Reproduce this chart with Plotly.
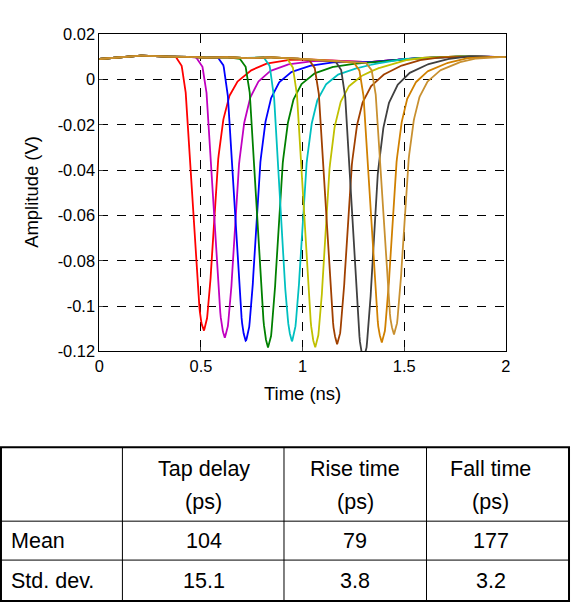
import plotly.graph_objects as go
import numpy as np

# pulse minima (ns) and depths (V)
centers = [0.514, 0.617, 0.721, 0.83, 0.948, 1.062, 1.17, 1.30, 1.39, 1.45]
minima = [-0.1117, -0.115, -0.116, -0.119, -0.116, -0.118, -0.116, -0.122, -0.115, -0.112]
colors = ['#ff0000', '#c000c0', '#0000ff', '#008000', '#00c0c0', '#c0c000', '#a04000', '#404040', '#d08000', '#c89030']
baseline = 0.009
# normalised pulse shape (offset ns, depth fraction)
shape_t = [-0.6, -0.14, -0.11, -0.09, -0.07, -0.05, -0.03, -0.015, 0.0, 0.015, 0.03, 0.05, 0.07, 0.09, 0.12, 0.16, 0.22, 0.30, 0.40, 0.50, 0.8]
shape_a = [0, 0, 0.03, 0.12, 0.35, 0.62, 0.85, 0.96, 1.0, 0.96, 0.85, 0.6, 0.38, 0.25, 0.15, 0.09, 0.05, 0.025, 0.008, 0.0, 0]
ripple_t = [0, 0.1, 0.2, 0.3, 0.4, 0.5, 0.6, 0.7, 0.8, 0.9, 1.0, 1.1, 1.2, 1.3, 1.4, 1.5, 1.6, 1.7, 1.8, 1.9, 2.0]
ripple_a = [0.0, 0.0008, 0.0015, 0.001, 0.0012, 0.0005, 0.001, 0.0003, 0.0008, 0.0006, 0.0, -0.0005, -0.001, -0.0015, -0.001, 0.0, 0.0005, 0.0008, 0.0012, 0.001, 0.0008]

t = np.linspace(0, 2, 801)
fig = go.Figure()
for c, m, col in zip(centers, minima, colors):
    depth = np.interp(t - c, shape_t, shape_a)
    y = baseline + np.interp(t, ripple_t, ripple_a) - depth * (baseline - m)
    fig.add_trace(go.Scatter(x=t, y=y, mode='lines', line=dict(color=col, width=1.8), showlegend=False))

W, H = 572, 604
SX, CX, SY, CY = 0.979, 286, 0.972, 246
def px(x):
    return (CX + (x - CX) / SX) / W
def py(y):
    return 1 - (CY + (y - CY) / SY) / H
FS = 1.0 / 0.975

yt = [0.02, 0, -0.02, -0.04, -0.06, -0.08, -0.1, -0.12]
ytxt = ['0.02', '0', '-0.02', '-0.04', '-0.06', '-0.08', '-0.1', '-0.12']
ax = dict(showline=True, linecolor='black', linewidth=1, mirror=True, ticks='inside', ticklen=4,
          showgrid=True, gridcolor='black', griddash='dash', gridwidth=1, zeroline=False,
          tickfont=dict(size=16 * FS, color='black'))
fig.update_layout(
    width=W, height=H, margin=dict(l=0, r=0, t=0, b=0), plot_bgcolor='white', paper_bgcolor='white',
    font=dict(family='Liberation Sans, Arial', color='black'),
    xaxis=dict(ax, range=[0, 2], domain=[px(100), px(505)], tickvals=[0, 0.5, 1, 1.5, 2], ticktext=['0', '0.5', '1', '1.5', '2']),
    yaxis=dict(ax, range=[-0.12, 0.02], domain=[py(350), py(32)], tickvals=yt, ticktext=ytxt),
)
def A(x, y, s, size=18, xanchor='center', **kw):
    fig.add_annotation(x=px(x), y=py(y), xref='paper', yref='paper', text=s, showarrow=False,
                       yanchor='middle', xanchor=xanchor, font=dict(size=size * FS, color='black'), **kw)
A(302, 392, 'Time (ns)')
A(33, 190, 'Amplitude (V)', textangle=-90)
def L(x0, y0, x1, y1, w=1):
    fig.add_shape(type='line', xref='paper', yref='paper', x0=px(x0), x1=px(x1), y0=py(y0), y1=py(y1),
                  line=dict(color='black', width=w))
fig.add_shape(type='rect', xref='paper', yref='paper', x0=px(2), x1=px(568), y0=py(600), y1=py(446), line=dict(color='black', width=2))
for yy in [520, 559]:
    L(2, yy, 568, yy)
for xx in [123, 284, 426]:
    L(xx, 446, xx, 600)
heads = ['Tap delay', 'Rise time', 'Fall time']
subs = ['(ps)', '(ps)', '(ps)']
cx = [204, 355, 490]
TF = 21
for x, h, s in zip(cx, heads, subs):
    A(x, 468, h, TF)
    A(x, 501, s, TF)
rows = ['Mean', 'Std. dev.']
mean = ['104', '79', '177']
std = ['15.1', '3.8', '3.2']
A(10, 540, rows[0], TF, xanchor='left')
A(10, 580, rows[1], TF, xanchor='left')
for x, a, b in zip(cx, mean, std):
    A(x, 540, a, TF)
    A(x, 580, b, TF)
fig.write_html('out.html', config={'displayModeBar': False})
with open('out.html') as f:
    html = f.read()
html = html.replace('<head>', '<head><style>html,body{margin:0;padding:0;overflow:hidden}</style>', 1)
with open('out.html', 'w') as f:
    f.write(html)
